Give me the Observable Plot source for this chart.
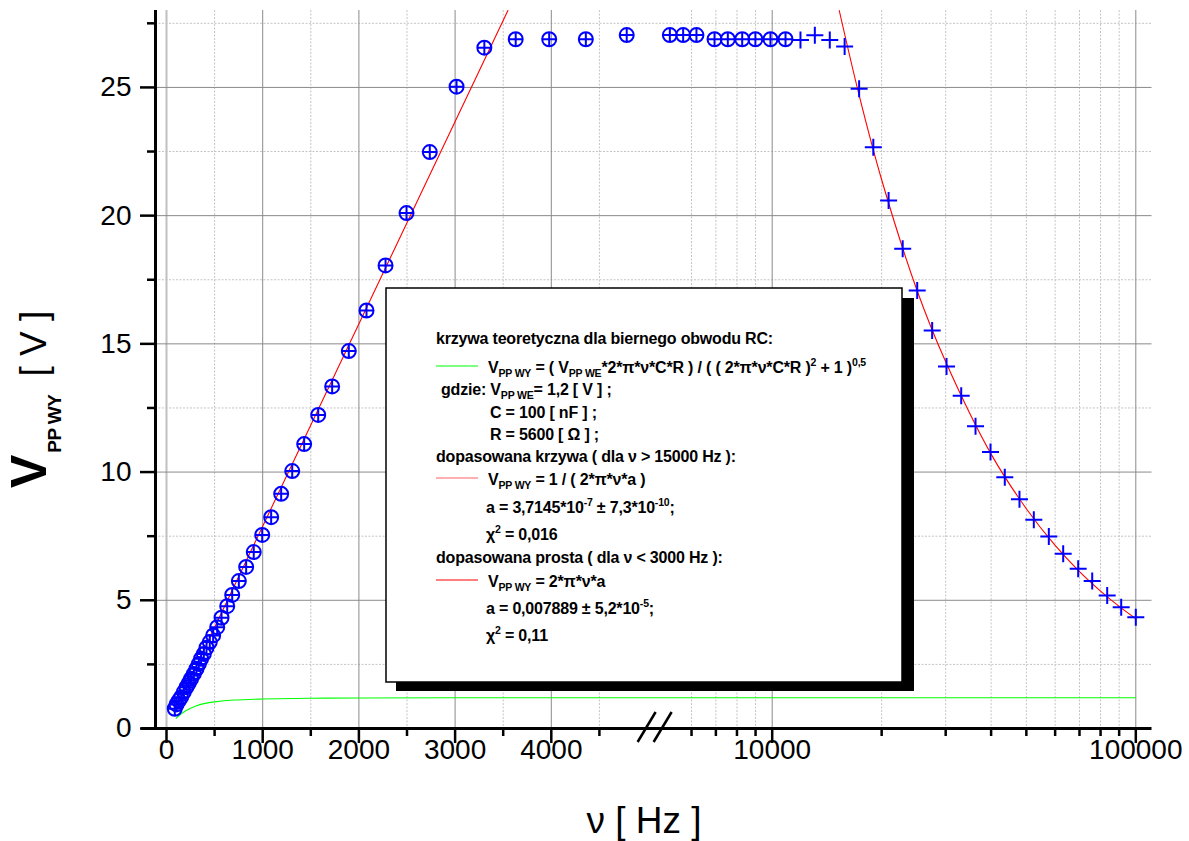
<!DOCTYPE html>
<html>
<head>
<meta charset="utf-8">
<script src="https://cdn.jsdelivr.net/npm/d3@7"></script>
<script src="https://cdn.jsdelivr.net/npm/@observablehq/plot@0.6"></script>
<style>
  html, body { margin: 0; padding: 0; background: #fff; }
  svg { display: block; }
</style>
</head>
<body>
<div id="chart"></div>
<script>
// ---------------- data ----------------
// measured points drawn as circle + plus (⊕)
const circNu = [86, 104, 128, 152, 180, 208, 232, 256, 284, 312, 336, 360, 388, 416, 450, 485, 527, 572, 631, 683, 752, 828, 907, 995, 1088, 1192, 1307, 1431, 1577, 1722, 1895, 2079, 2277, 2495, 2737, 3015, 3304, 3630, 3978, 4359, 4784, 5230, 5690, 6190, 6940, 7550, 8270, 8990, 9890, 10880];
const circV  = [0.77, 0.94, 1.09, 1.22, 1.42, 1.61, 1.77, 1.94, 2.13, 2.33, 2.52, 2.72, 2.91, 3.15, 3.37, 3.63, 3.95, 4.32, 4.77, 5.21, 5.75, 6.30, 6.88, 7.55, 8.24, 9.15, 10.04, 11.09, 12.23, 13.34, 14.72, 16.30, 18.06, 20.10, 22.48, 25.03, 26.55, 26.88, 26.88, 26.88, 27.04, 27.04, 27.04, 27.04, 26.88, 26.88, 26.88, 26.88, 26.88, 26.88];
// measured points drawn as plus (+)
const plusNu = [11960, 13100, 14400, 15820, 17340, 18970, 20900, 22850, 25050, 27540, 30160, 33100, 36240, 39850, 43620, 47870, 52420, 57650, 63140, 69430, 75880, 83430, 91170, 100000];
const plusV  = [26.85, 27.03, 26.85, 26.60, 24.95, 22.67, 20.59, 18.71, 17.08, 15.52, 14.12, 12.98, 11.79, 10.78, 9.80, 8.94, 8.14, 7.49, 6.81, 6.23, 5.75, 5.19, 4.73, 4.34];
// theoretical curve (green)
const greenNu = [100, 150, 200, 300, 400, 500, 700, 1000, 1500, 2000, 3000, 5000, 10000, 100000];
const greenV  = [0.40, 0.56, 0.69, 0.87, 0.98, 1.04, 1.11, 1.15, 1.18, 1.19, 1.20, 1.20, 1.20, 1.20];
// fitted straight line (red, low frequencies)
const lineNu = [104, 3549];
const lineV  = [0.82, 28.0];
// fitted curve (red, high frequencies)
const fitNu = [15290, 17340, 20000, 25000, 30000, 40000, 50000, 60000, 70000, 80000, 90000, 100000];
const fitV  = [28.0, 24.7, 21.4, 17.1, 14.3, 10.7, 8.57, 7.14, 6.12, 5.36, 4.76, 4.28];
// axis ticks
const xMajor = [0, 1000, 2000, 3000, 4000, 10000, 100000];
const xMajorLabels = ["0", "1000", "2000", "3000", "4000", "10000", "100000"];
const xMinor = [500, 1500, 2500, 3500, 4500, 6000, 7000, 8000, 9000, 20000, 30000, 40000, 50000, 60000, 70000, 80000, 90000];
const yMajor = [0, 5, 10, 15, 20, 25];
const yMinor = [2.5, 7.5, 12.5, 17.5, 22.5, 27.5];

// ---------------- broken axis: linear 0–5000 Hz, then logarithmic ----------------
const PX_PER_HZ = 0.0962;      // linear segment
const PX_PER_DECADE = 363.6;   // log segment
const LOG_OFFSET = 605.7;      // position of 10 kHz
const u = nu => nu <= 5000 ? nu * PX_PER_HZ : LOG_OFFSET + (Math.log10(nu) - 4) * PX_PER_DECADE;
const X0 = 166; // pixel of 0 Hz

const circ = circNu.map((nu, i) => ({nu, v: circV[i]}));
const plus = plusNu.map((nu, i) => ({nu, v: plusV[i]}));
const green = greenNu.map((nu, i) => ({nu, v: greenV[i]}));
const line = lineNu.map((nu, i) => ({nu, v: lineV[i]}));
const fit = fitNu.map((nu, i) => ({nu, v: fitV[i]}));

const circlePlus = {
  draw(ctx, size) {
    const r = Math.sqrt(size / Math.PI);
    ctx.moveTo(r, 0); ctx.arc(0, 0, r, 0, 2 * Math.PI);
    ctx.moveTo(-r, 0); ctx.lineTo(r, 0);
    ctx.moveTo(0, -r); ctx.lineTo(0, r);
  }
};
const plusSym = {
  draw(ctx, size) {
    const r = Math.sqrt(size / Math.PI);
    ctx.moveTo(-r, 0); ctx.lineTo(r, 0);
    ctx.moveTo(0, -r); ctx.lineTo(0, r);
  }
};

const BLUE = "#0000ff";
const FONT = "'Liberation Sans', Arial, Helvetica, sans-serif";

const chart = Plot.plot({
  width: 1189,
  height: 841,
  marginLeft: 155,
  marginRight: 37.5,
  marginTop: 10,
  marginBottom: 113,
  x: {domain: [-11, 985.5], axis: null},
  y: {domain: [0, 28], axis: null},
  style: {fontFamily: FONT, background: "#fff", color: "#000"},
  marks: [
    // grid
    Plot.ruleX(xMinor, {x: d => u(d), stroke: "#c4c4c4", strokeDasharray: "2,1.5"}),
    Plot.ruleY(yMinor, {stroke: "#c4c4c4", strokeDasharray: "2,1.5"}),
    Plot.ruleX(xMajor.filter(d => d > 0), {x: d => u(d), stroke: "#8a8a8a"}),
    Plot.ruleX([0], {x: d => u(d), stroke: "#c0c0c0", strokeWidth: 2}),
    Plot.ruleY(yMajor.filter(d => d > 0), {stroke: "#8a8a8a"}),
    // curves
    Plot.line(green, {x: d => u(d.nu), y: "v", stroke: "#00ff00", strokeWidth: 1.1, curve: "catmull-rom"}),
    Plot.line(line, {x: d => u(d.nu), y: "v", stroke: "#ff0000", strokeWidth: 1.1}),
    Plot.line(fit, {x: d => u(d.nu), y: "v", stroke: "#ff0000", strokeWidth: 1.1, curve: "catmull-rom"}),
    // points
    Plot.dot(circ, {x: d => u(d.nu), y: "v", symbol: circlePlus, r: 7, stroke: BLUE, fill: "none", strokeWidth: 2}),
    Plot.dot(plus, {x: d => u(d.nu), y: "v", symbol: plusSym, r: 8.5, stroke: BLUE, fill: "none", strokeWidth: 2}),
    // axes
    Plot.ruleY([0], {x1: -25, x2: 985.5, stroke: "#000", strokeWidth: 3}),
    Plot.ruleX([-11], {y1: 0, y2: 28, stroke: "#000", strokeWidth: 3}),
    Plot.ruleX(xMajor, {x: d => u(d), y1: 0, y2: 0, insetBottom: -15, stroke: "#000", strokeWidth: 2.5}),
    Plot.ruleX(xMinor, {x: d => u(d), y1: 0, y2: 0, insetBottom: -8, stroke: "#000", strokeWidth: 2.5}),
    Plot.ruleY(yMajor, {x1: -11, x2: -11, insetLeft: -15, stroke: "#000", strokeWidth: 2.5}),
    Plot.ruleY(yMinor, {x1: -11, x2: -11, insetLeft: -8, stroke: "#000", strokeWidth: 2.5}),
    Plot.text(xMajor, {x: d => u(d), y: () => 0, text: (d, i) => xMajorLabels[i], dy: 22, fontSize: 28, fill: "#000"}),
    Plot.text(yMajor, {x: () => -11, y: d => d, text: d => String(d), dx: -24, textAnchor: "end", fontSize: 28, fill: "#000"})
  ]
});
document.getElementById("chart").appendChild(chart);

const svg = d3.select(chart);

// axis break "//"
const bx = X0 + (u(5000) + (LOG_OFFSET + (Math.log10(5000) - 4) * PX_PER_DECADE)) / 2;
[-8, 8].forEach(off => {
  svg.append("line")
    .attr("x1", bx + off - 9).attr("y1", 742)
    .attr("x2", bx + off + 9).attr("y2", 712)
    .attr("stroke", "#000").attr("stroke-width", 2.5);
});

// axis titles
svg.append("text")
  .attr("x", 644).attr("y", 833)
  .attr("text-anchor", "middle")
  .attr("font-family", FONT).attr("font-size", 37).attr("fill", "#000")
  .text("ν [ Hz ]");

const yt = svg.append("text")
  .attr("transform", "translate(46,488) rotate(-90)")
  .attr("text-anchor", "start")
  .attr("font-family", FONT).attr("fill", "#000");
yt.append("tspan").attr("font-size", 50).attr("font-weight", "bold").text("V");
yt.append("tspan").attr("font-size", 19).attr("font-weight", "bold").attr("dy", 15).attr("dx", 2).attr("letter-spacing", -0.6).text("PP WY");
yt.append("tspan").attr("font-size", 37).attr("dy", -15).attr("dx", 8).text(" [ V ]");

// legend box
const lg = svg.append("g").attr("font-family", FONT).attr("font-weight", "bold").attr("font-size", 16)
  .attr("fill", "#000").attr("text-anchor", "start");
lg.append("rect").attr("x", 396).attr("y", 298).attr("width", 518).attr("height", 393).attr("fill", "#000");
lg.append("rect").attr("x", 386).attr("y", 288).attr("width", 516).attr("height", 394).attr("fill", "#fff").attr("stroke", "#000").attr("stroke-width", 1.5);

const legendLines = [
  {x: 436, y: 344, segs: [["krzywa teoretyczna dla biernego obwodu RC:"]]},
  {x: 488, y: 373, sample: "#00ff00", segs: [["V"], ["PP WY", "sub"], [" = ( V"], ["PP WE", "sub"], ["*2*π*ν*C*R ) / ( ( 2*π*ν*C*R )"], ["2", "sup"], [" + 1 )"], ["0,5", "sup"]]},
  {x: 441, y: 395, segs: [["gdzie: V"], ["PP WE", "sub"], ["= 1,2 [ V ] ;"]]},
  {x: 490, y: 418, segs: [["C = 100 [ nF ] ;"]]},
  {x: 490, y: 440, segs: [["R = 5600 [ Ω ] ;"]]},
  {x: 436, y: 462, segs: [["dopasowana krzywa ( dla ν > 15000 Hz ):"]]},
  {x: 488, y: 485, sample: "#ff6060", segs: [["V"], ["PP WY", "sub"], [" = 1 / ( 2*π*ν*a )"]]},
  {x: 486, y: 513, segs: [["a = 3,7145*10"], ["-7", "sup"], [" ± 7,3*10"], ["-10", "sup"], [";"]]},
  {x: 486, y: 540, segs: [["χ"], ["2", "sup"], [" = 0,016"]]},
  {x: 436, y: 563, segs: [["dopasowana prosta ( dla ν < 3000 Hz ):"]]},
  {x: 488, y: 587, sample: "#ff0000", segs: [["V"], ["PP WY", "sub"], [" = 2*π*ν*a"]]},
  {x: 486, y: 614, segs: [["a = 0,007889 ± 5,2*10"], ["-5", "sup"], [";"]]},
  {x: 486, y: 641, segs: [["χ"], ["2", "sup"], [" = 0,11"]]}
];

const SHIFT = {sub: 4, sup: -7};
const texts = [];
legendLines.forEach(L => {
  if (L.sample) {
    lg.append("line").attr("x1", 436).attr("x2", 478).attr("y1", L.y - 7).attr("y2", L.y - 7)
      .attr("stroke", L.sample).attr("stroke-width", 1.2);
  }
  const t = lg.append("text").attr("x", L.x).attr("y", L.y).style("white-space", "pre");
  let cur = 0;
  L.segs.forEach(([s, kind]) => {
    const target = kind ? SHIFT[kind] : 0;
    const ts = t.append("tspan").text(s).attr("dy", target - cur);
    if (kind) ts.attr("font-size", 10.5);
    cur = target;
  });
  texts.push(t);
});
// tighten letter spacing so the first line spans the same width as in the original
const w0 = texts[0].node().getComputedTextLength();
const n0 = legendLines[0].segs[0][0].length;
const ls = (337 - w0) / n0;
texts.forEach(t => t.attr("letter-spacing", ls));
</script>
</body>
</html>
